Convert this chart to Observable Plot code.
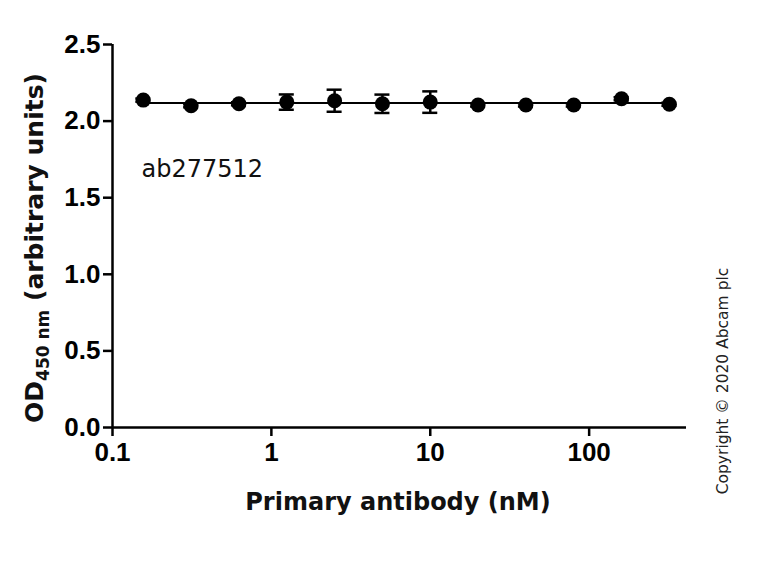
<!DOCTYPE html>
<html>
<head>
<meta charset="utf-8">
<script src="https://cdn.jsdelivr.net/npm/d3@7"></script>
<script src="https://cdn.jsdelivr.net/npm/@observablehq/plot@0.6"></script>
<style>
  html, body { margin: 0; padding: 0; background: #fff; }
  #chart { width: 768px; height: 565px; }
</style>
</head>
<body>
<div id="chart"></div>
<script>
// Data
const concentrations = [0.15625, 0.3125, 0.625, 1.25, 2.5, 5, 10, 20, 40, 80, 160, 320];
const odValues = [2.137, 2.100, 2.113, 2.124, 2.133, 2.113, 2.124, 2.105, 2.105, 2.105, 2.146, 2.110];
const odErrors = [0.01, 0.01, 0.01, 0.05, 0.072, 0.06, 0.07, 0.01, 0.01, 0.01, 0.01, 0.01];
const xTicks = [0.1, 1, 10, 100];
const yTicks = [0, 0.5, 1.0, 1.5, 2.0, 2.5];
const sampleLabel = "ab277512";
const xTitle = "Primary antibody (nM)";
const copyright = "Copyright © 2020 Abcam plc";

const data = concentrations.map((c, i) => ({c, v: odValues[i], e: odErrors[i]}));
const meanFit = d3.mean(odValues);
const fit = [concentrations[0], concentrations[concentrations.length - 1]].map(c => ({c, v: meanFit}));

const capFactor = 1.115;
const tickFont = "Liberation Sans, Arial, sans-serif";
const titleFont = "DejaVu Sans, Liberation Sans, sans-serif";

const plot = Plot.plot({
  width: 768,
  height: 565,
  marginLeft: 112,
  marginRight: 82,
  marginTop: 44,
  marginBottom: 138,
  style: {fontFamily: tickFont, background: "#fff", color: "#000"},
  x: {type: "log", domain: [0.1, 410]},
  y: {domain: [0, 2.5]},
  marks: [
    Plot.axisX({ticks: xTicks, tickFormat: d => String(d), tickSize: 9, tickPadding: 6,
      strokeWidth: 2.5, fontSize: 26, fontWeight: "bold", fontFamily: tickFont, label: null}),
    Plot.axisY({ticks: yTicks, tickFormat: d3.format(".1f"), tickSize: 9, tickPadding: 3,
      strokeWidth: 2.5, fontSize: 26, fontWeight: "bold", fontFamily: tickFont, label: null}),
    Plot.ruleY([0], {stroke: "#000", strokeWidth: 2.5}),
    Plot.ruleX([0.1], {stroke: "#000", strokeWidth: 2.5}),
    Plot.line(fit, {x: "c", y: "v", stroke: "#000", strokeWidth: 2}),
    Plot.ruleX(data, {x: "c", y1: d => d.v - d.e, y2: d => d.v + d.e, stroke: "#000", strokeWidth: 2.5}),
    Plot.ruleY(data, {y: d => d.v - d.e, x1: d => d.c / capFactor, x2: d => d.c * capFactor, stroke: "#000", strokeWidth: 2.5}),
    Plot.ruleY(data, {y: d => d.v + d.e, x1: d => d.c / capFactor, x2: d => d.c * capFactor, stroke: "#000", strokeWidth: 2.5}),
    Plot.dot(data, {x: "c", y: "v", r: 7.5, fill: "#000", stroke: "none"}),
    Plot.text([sampleLabel], {frameAnchor: "top-left", dx: 29, dy: 125, textAnchor: "start",
      lineAnchor: "middle", fontSize: 24, fontFamily: titleFont, fill: "#111"})
  ]
});

const svg = d3.select(plot);
// x axis title
svg.append("text")
  .attr("x", 398).attr("y", 510)
  .attr("text-anchor", "middle")
  .attr("font-family", titleFont).attr("font-size", 24).attr("font-weight", "bold")
  .attr("fill", "#111")
  .text(xTitle);

// y axis title with subscript
const yt = svg.append("text")
  .attr("transform", "translate(43,248) rotate(-90)")
  .attr("text-anchor", "middle")
  .attr("font-family", titleFont).attr("font-size", 25).attr("font-weight", "bold")
  .attr("fill", "#111");
yt.append("tspan").text("OD");
yt.append("tspan").attr("font-size", 17).attr("dy", 6).text("450 nm");
yt.append("tspan").attr("dy", -6).text(" (arbitrary units)");

// copyright
svg.append("text")
  .attr("transform", "translate(728,381) rotate(-90)")
  .attr("text-anchor", "middle")
  .attr("font-family", titleFont).attr("font-size", 15.5)
  .attr("fill", "#222")
  .text(copyright);

document.getElementById("chart").appendChild(plot);
</script>
</body>
</html>
